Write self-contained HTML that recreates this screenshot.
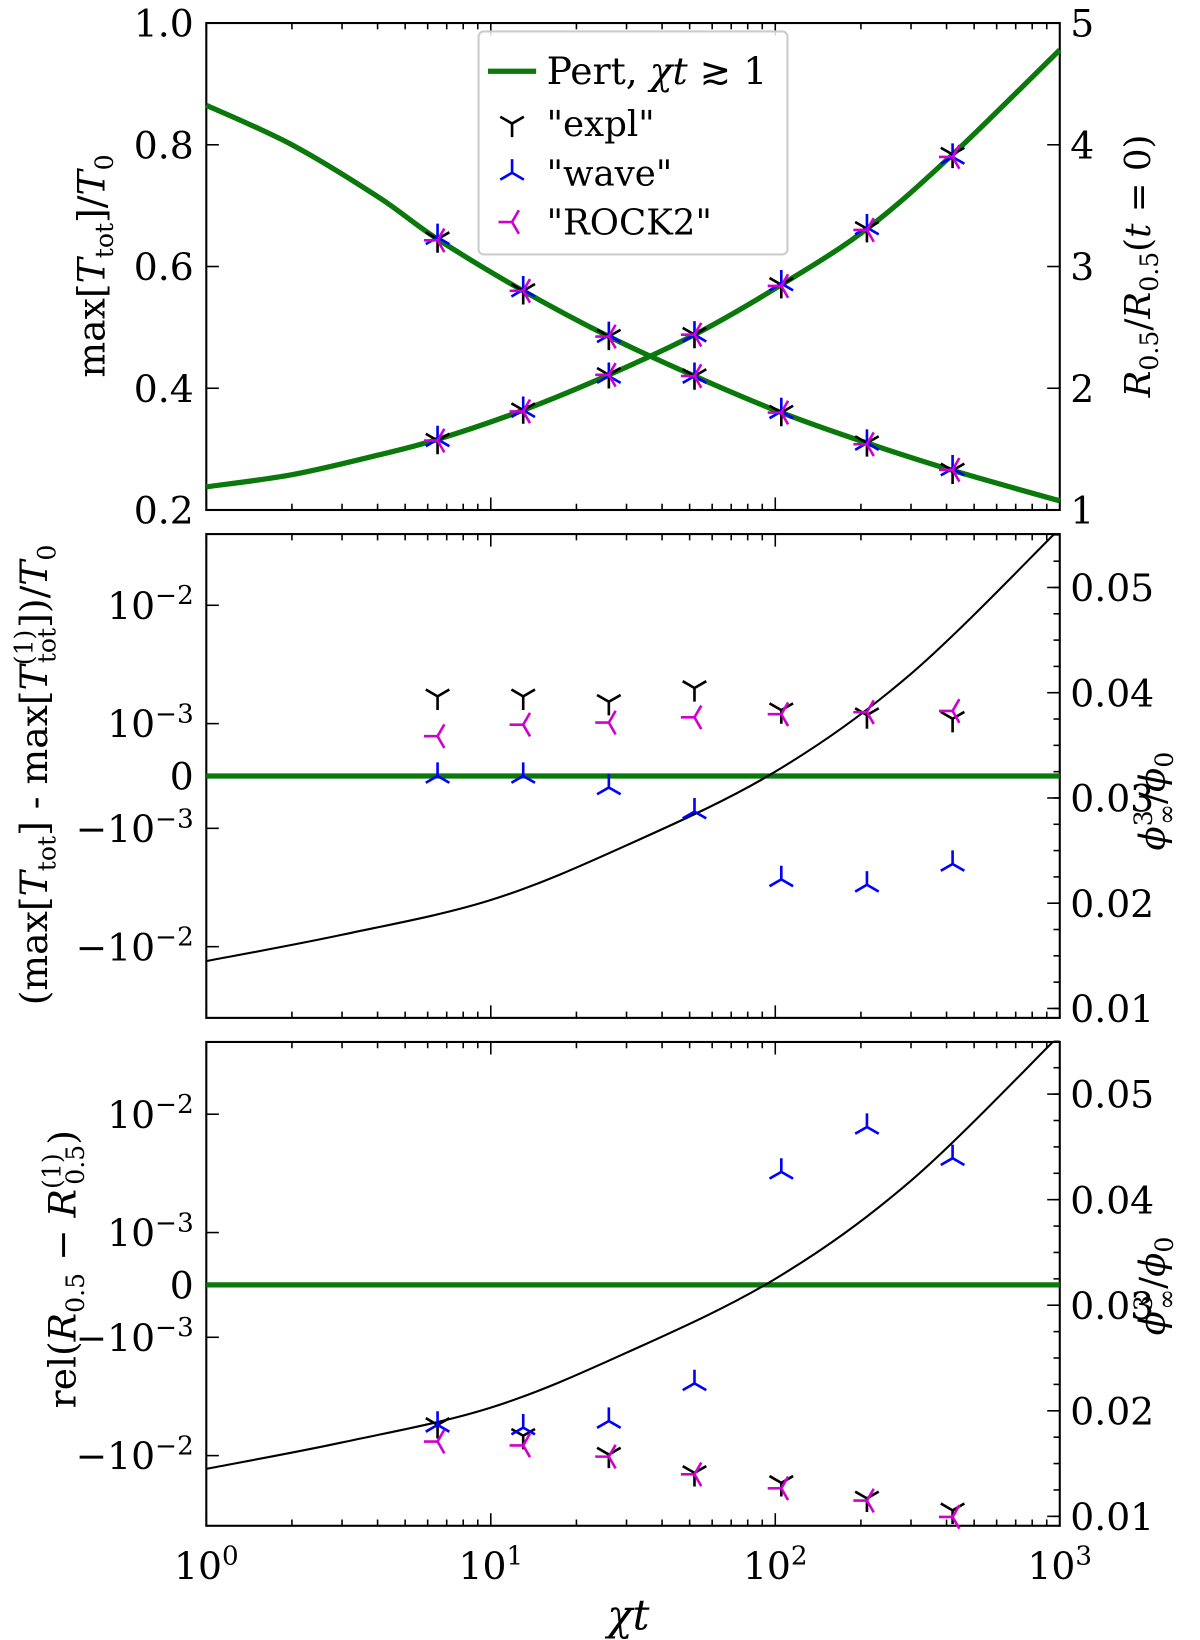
<!DOCTYPE html>
<html><head><meta charset="utf-8">
<style>
html,body{margin:0;padding:0;background:#fff;}
svg{display:block;font-family:"DejaVu Serif","Liberation Serif",serif;}
</style></head>
<body>
<svg id="chart" width="1200" height="1640" viewBox="0 0 1200 1640" xmlns="http://www.w3.org/2000/svg">
<g id="g" transform="scale(1.0472)"></g>
</svg>
<script>
// ---- data ----
const xPoints = [6.5, 13, 26, 52, 105, 210, 420];
const curveX = [1, 2, 4, 6.5, 13, 26, 52, 105, 210, 420, 1000];
const tmaxCurve = [0.865, 0.80, 0.715, 0.645, 0.56, 0.485, 0.42, 0.36, 0.31, 0.265, 0.215];
const rCurve = [1.19, 1.29, 1.45, 1.58, 1.82, 2.11, 2.44, 2.85, 3.31, 3.92, 4.78];
const tmaxExpl = [0.645, 0.56, 0.485, 0.42, 0.36, 0.31, 0.265];
const tmaxWave = [0.648, 0.562, 0.487, 0.42, 0.362, 0.31, 0.268];
const tmaxRock = [0.643, 0.56, 0.485, 0.42, 0.36, 0.308, 0.266];
const rExpl = [1.57, 1.82, 2.11, 2.44, 2.85, 3.31, 3.92];
const rWave = [1.58, 1.82, 2.1, 2.44, 2.86, 3.32, 3.9];
const rRock = [1.57, 1.81, 2.11, 2.44, 2.84, 3.3, 3.9];
const phiX = [1, 3, 10, 30, 100, 300, 1000];
const phiCurve = [0.0145, 0.0170, 0.0203, 0.0255, 0.0325, 0.0418, 0.0556];
const dTExpl = [1.7e-3, 1.7e-3, 1.53e-3, 2.0e-3, 1.3e-3, 1.18e-3, 1.1e-3];
const dTWave = [0, 0, -0.22e-3, -0.68e-3, -2.7e-3, -3.0e-3, -2.0e-3];
const dTRock = [0.76e-3, 0.98e-3, 1.02e-3, 1.13e-3, 1.2e-3, 1.25e-3, 1.28e-3];
const dRExpl = [-5.5e-3, -6.8e-3, -9.8e-3, -14e-3, -17e-3, -23e-3, -29e-3];
const dRWave = [-5.5e-3, -5.8e-3, -5.1e-3, -2.45e-3, 3.26e-3, 7.8e-3, 4.25e-3];
const dRRock = [-7.6e-3, -8.2e-3, -10.2e-3, -14.4e-3, -18.9e-3, -24e-3, -33e-3];
const xTicks = [1, 10, 100, 1000];
const xTickLabels = ["0", "1", "2", "3"];
const p1LeftTicks = [0.2, 0.4, 0.6, 0.8, 1.0];
const p1RightTicks = [1, 2, 3, 4, 5];
const phiTicks = [0.01, 0.02, 0.03, 0.04, 0.05];

const NS = "http://www.w3.org/2000/svg";
const G = document.getElementById('g');
function el(tag, attrs, parent) {
  const e = document.createElementNS(NS, tag);
  for (const k in attrs) e.setAttribute(k, attrs[k]);
  (parent || G).appendChild(e);
  return e;
}
const X0 = 197, X1 = 1012;
function sx(v) { return X0 + Math.log10(v) / 3 * (X1 - X0); }
const panels = [{top: 22, bot: 487}, {top: 510, bot: 972}, {top: 995, bot: 1457}];
function p1L(v) { return 487 - (v - 0.2) / 0.8 * 465; }
function p1R(v) { return 487 - (v - 1) / 4 * 465; }
function symY(center) {
  return function (v) {
    const a = Math.abs(v);
    let d = a <= 1e-3 ? 50 * a / 1e-3 : 50 + 113 * Math.log10(a / 1e-3);
    return center - Math.sign(v) * d;
  };
}
const p2Y = symY(741), p3Y = symY(1227);
const p2Phi = v => 963 - (v - 0.01) / 0.01 * 100.5;
const p3Phi = v => 1448 - (v - 0.01) / 0.01 * 100.8;

function pathFrom(xs, ys, fx, fy, name, color, w) {
  const px = xs.map(fx), py = ys.map(fy);
  let d = "M" + px[0] + "," + py[0];
  for (let i = 0; i < px.length - 1; i++) {
    const p0x = px[Math.max(i - 1, 0)], p0y = py[Math.max(i - 1, 0)];
    const p3x = px[Math.min(i + 2, px.length - 1)], p3y = py[Math.min(i + 2, px.length - 1)];
    const c1x = px[i] + (px[i + 1] - p0x) / 6, c1y = py[i] + (py[i + 1] - p0y) / 6;
    const c2x = px[i + 1] - (p3x - px[i]) / 6, c2y = py[i + 1] - (p3y - py[i]) / 6;
    d += " C" + c1x + "," + c1y + " " + c2x + "," + c2y + " " + px[i + 1] + "," + py[i + 1];
  }
  const p = el('path', {d: d, fill: 'none', stroke: color, 'stroke-width': w});
  
  
  return p;
}
const ARM = 13;
function marker(x, y, type, color, name) {
  const angs = type === 'down' ? [90, 210, 330] : type === 'up' ? [270, 30, 150] : [180, 300, 60];
  let d = "";
  angs.forEach(a => {
    const r = a * Math.PI / 180;
    d += "M" + x + "," + y + " L" + (x + ARM * Math.cos(r)) + "," + (y + ARM * Math.sin(r)) + " ";
  });
  const p = el('path', {d: d, stroke: color, 'stroke-width': 2.5, fill: 'none'});
  
  
}
function series(vals, fy, type, color, name) {
  vals.forEach((v, i) => marker(sx(xPoints[i]), fy(v), type, color, name));
}
function frame(p, i) {
  const r = el('rect', {x: X0, y: p.top, width: X1 - X0, height: p.bot - p.top, fill: 'none', stroke: '#000', 'stroke-width': 2});
  
  
  for (let dec = 0; dec < 3; dec++) {
    for (let m = 1; m <= 9; m++) {
      const v = Math.pow(10, dec) * m;
      const x = sx(v), len = m === 1 ? 12 : 6;
      el('line', {x1: x, x2: x, y1: p.bot, y2: p.bot - len, stroke: '#000', 'stroke-width': 1.5});
      el('line', {x1: x, x2: x, y1: p.top, y2: p.top + len, stroke: '#000', 'stroke-width': 1.5});
    }
  }
}
function yTick(y, side, len) {
  const x = side === 'L' ? X0 : X1;
  el('line', {x1: x, x2: side === 'L' ? x + len : x - len, y1: y, y2: y, stroke: '#000', 'stroke-width': 1.5});
}
function txt(x, y, s, size, anchor, name, rot) {
  const t = el('text', {x: x, y: y, 'font-size': size, 'text-anchor': anchor || 'middle'});
  if (rot) t.setAttribute('transform', 'rotate(' + rot + ' ' + x + ' ' + y + ')');
  t.innerHTML = s;
  
  
  return t;
}
panels.forEach(frame);

// ---- panel 1 ----
p1LeftTicks.forEach(v => { yTick(p1L(v), 'L', 12); txt(185, p1L(v) + 13, v.toFixed(1), 36, 'end', 'p1-left-tick-label'); });
p1RightTicks.forEach(v => { yTick(p1R(v), 'R', 12); txt(1022, p1R(v) + 13, String(v), 36, 'start', 'p1-right-tick-label'); });
pathFrom(curveX, tmaxCurve, sx, p1L, 'tmax-pert-curve', '#0a780a', 5);
pathFrom(curveX, rCurve, sx, p1R, 'r05-pert-curve', '#0a780a', 5);
series(tmaxExpl, p1L, 'down', '#000', 'tmax-expl-marker');
series(tmaxWave, p1L, 'up', '#0000ff', 'tmax-wave-marker');
series(tmaxRock, p1L, 'left', '#d000d0', 'tmax-rock2-marker');
series(rExpl, p1R, 'down', '#000', 'r05-expl-marker');
series(rWave, p1R, 'up', '#0000ff', 'r05-wave-marker');
series(rRock, p1R, 'left', '#d000d0', 'r05-rock2-marker');

// legend
const lg = el('rect', {x: 457, y: 30, width: 295, height: 213, fill: '#fff', 'fill-opacity': 0.85, stroke: '#ccc', 'stroke-width': 2, rx: 5});


el('line', {x1: 466, x2: 512, y1: 68, y2: 68, stroke: '#0a780a', 'stroke-width': 5});
txt(522, 80, 'Pert, <tspan font-style="italic">χt</tspan> ≳ 1', 36, 'start', 'legend-pert');
marker(489, 118, 'down', '#000', 'legend-expl-marker');
txt(522, 130, '"expl"', 34, 'start', 'legend-expl');
marker(489, 165, 'up', '#0000ff', 'legend-wave-marker');
txt(522, 177, '"wave"', 34, 'start', 'legend-wave');
marker(489, 212, 'left', '#d000d0', 'legend-rock2-marker');
txt(522, 224, '"ROCK2"', 34, 'start', 'legend-rock2');

// ---- panels 2 & 3 ----
function symTicks(fy, pname) {
  const vals = [1e-2, 1e-3, 0, -1e-3, -1e-2];
  const labs = ['10<tspan dy="-14" font-size="25">−2</tspan>', '10<tspan dy="-14" font-size="25">−3</tspan>', '0',
    '−10<tspan dy="-14" font-size="25">−3</tspan>', '−10<tspan dy="-14" font-size="25">−2</tspan>'];
  vals.forEach((v, i) => { yTick(fy(v), 'L', 12); txt(185, fy(v) + 13, labs[i], 36, 'end', pname + '-left-tick-label'); });
}
function phiTicksDraw(fy, pname) {
  phiTicks.forEach(v => { yTick(fy(v), 'R', 12); txt(1022, fy(v) + 13, v.toFixed(2), 36, 'start', pname + '-right-tick-label'); });
  for (let v = 0.01; v < 0.0555; v += 0.0025) yTick(fy(v), 'R', 6);
}
symTicks(p2Y, 'p2'); phiTicksDraw(p2Phi, 'p2');
symTicks(p3Y, 'p3'); phiTicksDraw(p3Phi, 'p3');

const clip2 = el('clipPath', {id: 'c2'}); el('rect', {x: X0, y: 510, width: X1 - X0, height: 462}, clip2);
const clip3 = el('clipPath', {id: 'c3'}); el('rect', {x: X0, y: 995, width: X1 - X0, height: 462}, clip3);
el('line', {x1: X0, x2: X1, y1: p2Y(0), y2: p2Y(0), stroke: '#0a780a', 'stroke-width': 5});
el('line', {x1: X0, x2: X1, y1: p3Y(0), y2: p3Y(0), stroke: '#0a780a', 'stroke-width': 5});
pathFrom(phiX, phiCurve, sx, p2Phi, 'p2-phi-curve', '#000', 2).setAttribute('clip-path', 'url(#c2)');
pathFrom(phiX, phiCurve, sx, p3Phi, 'p3-phi-curve', '#000', 2).setAttribute('clip-path', 'url(#c3)');
series(dTExpl, p2Y, 'down', '#000', 'dt-expl-marker');
series(dTWave, p2Y, 'up', '#0000ff', 'dt-wave-marker');
series(dTRock, p2Y, 'left', '#d000d0', 'dt-rock2-marker');
series(dRExpl, p3Y, 'down', '#000', 'dr-expl-marker');
series(dRWave, p3Y, 'up', '#0000ff', 'dr-wave-marker');
series(dRRock, p3Y, 'left', '#d000d0', 'dr-rock2-marker');

// x tick labels
xTicks.forEach((v, i) => txt(sx(v), 1508, '10<tspan dy="-14" font-size="25">' + xTickLabels[i] + '</tspan>', 36, 'middle', 'x-tick-label'));

// axis titles
txt(600, 1556, '<tspan font-style="italic">χt</tspan>', 40, 'middle', 'x-axis-title');
txt(100, 254, 'max[<tspan font-style="italic">T</tspan><tspan dy="8" font-size="24">tot</tspan><tspan dy="-8">]/</tspan><tspan font-style="italic">T</tspan><tspan dy="8" font-size="24">0</tspan>', 36, 'middle', 'p1-left-axis-title', -90);
txt(1098, 254, '<tspan font-style="italic">R</tspan><tspan dy="8" font-size="24">0.5</tspan><tspan dy="-8">/</tspan><tspan font-style="italic">R</tspan><tspan dy="8" font-size="24">0.5</tspan><tspan dy="-8">(</tspan><tspan font-style="italic">t</tspan> = 0)', 34, 'middle', 'p1-right-axis-title', -90);
txt(45, 740, '(max[<tspan font-style="italic">T</tspan><tspan dy="8" font-size="24">tot</tspan><tspan dy="-8">] - max[</tspan><tspan font-style="italic">T</tspan><tspan dy="-14" font-size="24">(1)</tspan><tspan dy="22" dx="-32" font-size="24">tot</tspan><tspan dy="-8">])/</tspan><tspan font-style="italic">T</tspan><tspan dy="8" font-size="24">0</tspan>', 36, 'middle', 'p2-left-axis-title', -90);
txt(1112, 765, '<tspan font-style="italic">ϕ</tspan><tspan dy="-12" font-size="24">3</tspan><tspan dy="22" dx="-14" font-size="24">∞</tspan><tspan dy="-10">/</tspan><tspan font-style="italic">ϕ</tspan><tspan dy="8" font-size="24">0</tspan>', 34, 'middle', 'p2-right-axis-title', -90);
txt(72, 1212, 'rel(<tspan font-style="italic">R</tspan><tspan dy="8" font-size="24">0.5</tspan><tspan dy="-8"> − </tspan><tspan font-style="italic">R</tspan><tspan dy="-14" font-size="24">(1)</tspan><tspan dy="22" dx="-30" font-size="24">0.5</tspan><tspan dy="-8">)</tspan>', 36, 'middle', 'p3-left-axis-title', -90);
txt(1112, 1228, '<tspan font-style="italic">ϕ</tspan><tspan dy="-12" font-size="24">3</tspan><tspan dy="22" dx="-14" font-size="24">∞</tspan><tspan dy="-10">/</tspan><tspan font-style="italic">ϕ</tspan><tspan dy="8" font-size="24">0</tspan>', 34, 'middle', 'p3-right-axis-title', -90);
</script>
</body></html>
